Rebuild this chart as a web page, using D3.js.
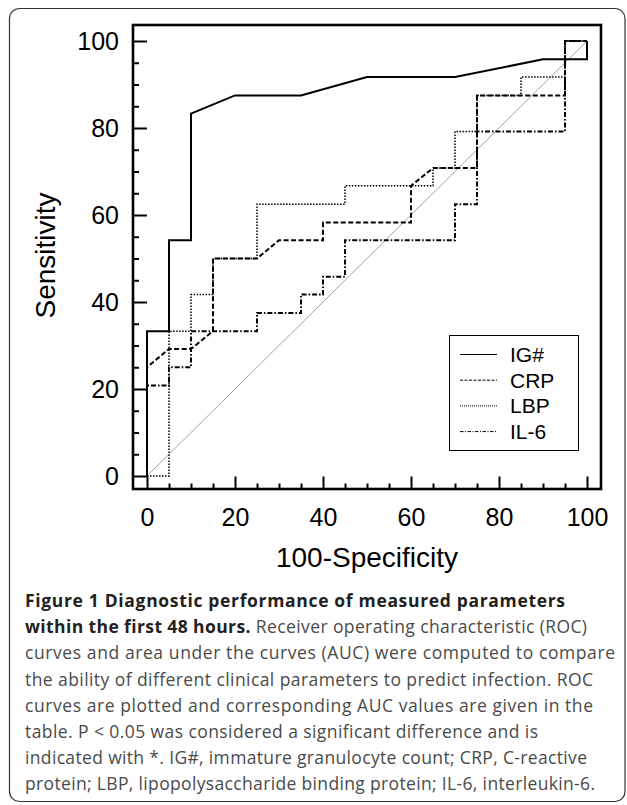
<!DOCTYPE html>
<html>
<head>
<meta charset="utf-8">
<script src="https://d3js.org/d3.v7.min.js"></script>
<style>
  body { margin: 0; background: #fff; }
  svg { display: block; }
</style>
</head>
<body>
<script>
// ROC curves, sensitivity vs 100-specificity (percent)
const series = ['IG#', 'CRP', 'LBP', 'IL-6'];

const igX = [0, 0, 5, 5, 10, 10, 20, 35, 50, 70, 90, 100, 100];
const igY = [0, 33.3, 33.3, 54.2, 54.2, 83.3, 87.5, 87.5, 91.7, 91.7, 95.8, 95.8, 100];

const crpX = [0, 0, 5, 10, 15, 15, 25, 30, 40, 40, 60, 60, 65, 75, 75, 95, 95, 100];
const crpY = [0, 25, 29.2, 29.2, 33.3, 50, 50, 54.2, 54.2, 58.3, 58.3, 66.7, 70.8, 70.8, 87.5, 87.5, 100, 100];

const lbpX = [0, 5, 5, 10, 10, 15, 15, 25, 25, 45, 45, 65, 65, 70, 70, 75, 75, 85, 85, 95, 95, 100];
const lbpY = [0, 0, 33.3, 33.3, 41.7, 41.7, 50, 50, 62.5, 62.5, 66.7, 66.7, 70.8, 70.8, 79.2, 79.2, 87.5, 87.5, 91.7, 91.7, 100, 100];

const il6X = [0, 0, 5, 5, 10, 10, 25, 25, 35, 35, 40, 40, 45, 45, 70, 70, 75, 75, 95, 95, 100];
const il6Y = [0, 20.8, 20.8, 25, 25, 33.3, 33.3, 37.5, 37.5, 41.7, 41.7, 45.8, 45.8, 54.2, 54.2, 62.5, 62.5, 79.2, 79.2, 100, 100];

const majorTicks = [0, 20, 40, 60, 80, 100];
const minorTicks = d3.range(0, 101, 5).filter((d) => d % 20 != 0);

const captionLines = [
  [['Figure 1 Diagnostic performance of measured parameters', true]],
  [['within the first 48 hours.', true], [' Receiver operating characteristic (ROC)', false]],
  [['curves and area under the curves (AUC) were computed to compare', false]],
  [['the ability of different clinical parameters to predict infection. ROC', false]],
  [['curves are plotted and corresponding AUC values are given in the', false]],
  [['table. P < 0.05 was considered a significant difference and is', false]],
  [['indicated with *. IG#, immature granulocyte count; CRP, C-reactive', false]],
  [['protein; LBP, lipopolysaccharide binding protein; IL-6, interleukin-6.', false]],
];
// right end of each caption line in the figure
const captionEnds = [565, 587, 615, 593, 593, 538, 587, 595];

const W = 627, H = 805;
const box = { left: 133, right: 601, top: 25, bottom: 489 };

const svg = d3.select('body').append('svg').attr('width', W).attr('height', H);

// outer panel border
svg.append('rect')
  .attr('x', 9.5).attr('y', 8.5).attr('width', 615.5).attr('height', 793)
  .attr('rx', 10).attr('fill', 'none').attr('stroke', '#333').attr('stroke-width', 1.2);

let x = d3.scaleLinear([0, 100], [147, 587]);
let y = d3.scaleLinear([0, 100], [476, 41]);

const tickFont = "'Liberation Sans', Arial, sans-serif";

// y axis, ticks pointing inward
let yMajor = svg.append('g').attr('transform', `translate(${box.left},0)`)
  .call(d3.axisLeft(y).tickValues(majorTicks).tickSize(-14).tickPadding(14));
let yMinor = svg.append('g').attr('transform', `translate(${box.left},0)`)
  .call(d3.axisLeft(y).tickValues(minorTicks).tickSize(-6).tickFormat(''));

let xMajor = svg.append('g').attr('transform', `translate(0,${box.bottom})`)
  .call(d3.axisBottom(x).tickValues(majorTicks).tickSize(-12.5).tickPadding(19));
let xMinor = svg.append('g').attr('transform', `translate(0,${box.bottom})`)
  .call(d3.axisBottom(x).tickValues(minorTicks).tickSize(-5.5).tickFormat(''));

[yMajor, yMinor, xMajor, xMinor].forEach((g) => {
  g.select('.domain').remove();
  g.selectAll('line').attr('stroke', '#000').attr('stroke-width', 2);
  g.selectAll('text').attr('font-family', tickFont).attr('font-size', 25).attr('fill', '#000');
});

// chance line
svg.append('line')
  .attr('x1', x(0)).attr('y1', y(0)).attr('x2', x(100)).attr('y2', y(100))
  .attr('stroke', '#8a8a8a').attr('stroke-width', 0.8);

const styles = {
  'IG#': { xs: igX, ys: igY, width: 2, dash: null, legendDash: null },
  'CRP': { xs: crpX, ys: crpY, width: 2, dash: '5,2.5', legendDash: '3,1.5' },
  'LBP': { xs: lbpX, ys: lbpY, width: 1.5, dash: '1.5,1.5', legendDash: '1,1' },
  'IL-6': { xs: il6X, ys: il6Y, width: 2, dash: '5,2,1.5,2', legendDash: '3.5,1.5,1,1.5' },
};

let line = d3.line().x((d) => x(d[0])).y((d) => y(d[1]));

svg.selectAll('path.roc')
  .data(series.slice().reverse())
  .enter()
  .append('path')
  .attr('class', 'roc')
  .attr('d', (s) => line(d3.zip(styles[s].xs, styles[s].ys)))
  .attr('fill', 'none')
  .attr('stroke', '#000')
  .attr('stroke-width', (s) => styles[s].width)
  .attr('stroke-dasharray', (s) => styles[s].dash)
  .attr('stroke-linejoin', 'miter');

// plot frame
svg.append('rect')
  .attr('x', box.left).attr('y', box.top)
  .attr('width', box.right - box.left).attr('height', box.bottom - box.top)
  .attr('fill', 'none').attr('stroke', '#000').attr('stroke-width', 2.6);

// legend
let legend = svg.append('g');
legend.append('rect')
  .attr('x', 449.5).attr('y', 335.5).attr('width', 129).attr('height', 115)
  .attr('fill', '#fff').attr('stroke', '#000').attr('stroke-width', 1);

let item = legend.selectAll('g.item')
  .data(series)
  .enter()
  .append('g')
  .attr('class', 'item')
  .attr('transform', (d, i) => `translate(0,${354.5 + i * 25.7})`);

item.append('line')
  .attr('x1', 460).attr('x2', 497).attr('y1', 0).attr('y2', 0)
  .attr('stroke', '#000').attr('stroke-width', 1)
  .attr('stroke-dasharray', (s) => styles[s].legendDash);

item.append('text')
  .attr('x', 510).attr('y', 7.5)
  .attr('font-family', tickFont).attr('font-size', 21)
  .text((d) => d);

// axis titles
svg.append('text')
  .attr('x', (x(0) + x(100)) / 2).attr('y', 567)
  .attr('text-anchor', 'middle')
  .attr('font-family', tickFont).attr('font-size', 28)
  .text('100-Specificity');

svg.append('text')
  .attr('transform', `translate(55,${(y(0) + y(100)) / 2 - 3}) rotate(-90)`)
  .attr('text-anchor', 'middle')
  .attr('font-family', tickFont).attr('font-size', 28)
  .text('Sensitivity');

// caption
const capFont = "'Open Sans', 'Noto Sans', sans-serif";
let cap = svg.selectAll('text.cap')
  .data(captionLines)
  .enter()
  .append('text')
  .attr('class', 'cap')
  .attr('x', 25)
  .attr('y', (d, i) => 607 + i * 26.2)
  .attr('font-family', capFont)
  .attr('font-size', 17.5);

cap.selectAll('tspan')
  .data((d) => d)
  .enter()
  .append('tspan')
  .attr('font-weight', (d) => (d[1] ? 'bold' : 'normal'))
  .attr('fill', (d) => (d[1] ? '#231f20' : '#4a4a4a'))
  .text((d) => d[0]);

// stretch each caption line to its width in the figure
cap.each(function (d, i) {
  let len = this.getComputedTextLength();
  let n = d.reduce((a, p) => a + p[0].length, 0);
  let extra = (captionEnds[i] - 25 - len) / (n - 1);
  d3.select(this).style('letter-spacing', extra + 'px');
});
</script>
</body>
</html>
